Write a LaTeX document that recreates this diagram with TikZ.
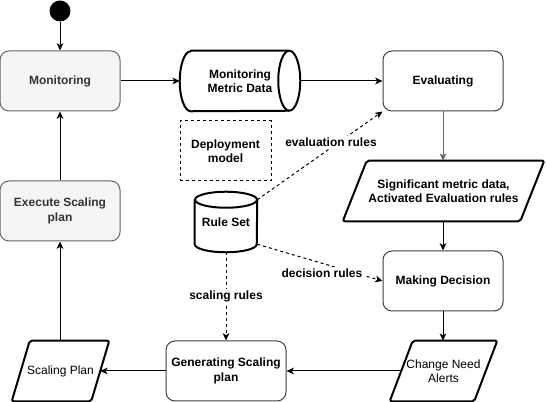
\documentclass[tikz,border=0pt]{standalone}
\usepackage{fontspec}
\setmainfont{Liberation Sans}
\usetikzlibrary{arrows.meta,calc,backgrounds}
\definecolor{gfill}{HTML}{F5F5F5}
\definecolor{gtext}{HTML}{333333}
\definecolor{gline}{HTML}{666666}
\begin{document}
\begin{tikzpicture}[x=0.75pt,y=-0.75pt,
  every node/.style={font=\fontsize{9}{10.8}\selectfont\bfseries, align=center, inner sep=0pt},
  reg/.style={font=\fontsize{9}{10.8}\selectfont},
  rbox/.style={draw=black!75, line width=0.75pt, rounded corners=6.75pt, minimum width=90pt, minimum height=45pt, fill=white},
  gbox/.style={rbox, draw=gline, fill=gfill, text=gtext},
  shp/.style={minimum width=#1, minimum height=45pt},
  thk/.style={line width=1.5pt, line join=round},
  arr/.style={-{Stealth[length=5.5pt,width=5pt,inset=1.5pt]}, line width=0.75pt},
  dsh/.style={arr, dash pattern=on 2.25pt off 2.25pt},
  lbl/.style={fill=white, inner sep=1pt},
]
\useasboundingbox (0,0) rectangle (547,402);

\node[circle, fill=black, minimum size=15.75pt] (start) at (60,11) {};
\node[gbox] (mon) at (60,81) {Monitoring};
\node[gbox] (exe) at (60,211) {Execute Scaling\\plan};
\node[rbox] (eva) at (443,81) {Evaluating};
\node[rbox] (dec) at (443,281) {Making Decision};
\node[rbox] (gen) at (226,371) {Generating Scaling\\plan};

% Monitoring Metric Data cylinder
\node[shp=90pt] (mmd) at (240,81) {Monitoring\\Metric Data};
\begin{scope}[on background layer]
\draw[thk] ($(mmd.north west)+(11,0)$) -- ($(mmd.north east)+(-11,0)$)
  arc[start angle=90,end angle=-90,x radius=8.25pt,y radius=22.5pt]
  -- ($(mmd.south west)+(11,0)$)
  arc[start angle=270,end angle=90,x radius=8.25pt,y radius=22.5pt] -- cycle;
\draw[thk] ($(mmd.north east)+(-11,0)$) arc[start angle=90,end angle=270,x radius=8.25pt,y radius=22.5pt];
\end{scope}

% Rule Set cylinder
\node[shp=46.5pt] (rs) at (226,222) {Rule Set};
\begin{scope}[on background layer]
\draw[thk] ($(rs.north west)+(0,8)$) -- ($(rs.south west)+(0,-8)$)
  arc[start angle=180,end angle=360,x radius=23.25pt,y radius=6pt]
  -- ($(rs.north east)+(0,8)$);
\draw[thk] ($(rs.north)+(0,8)$) ellipse[x radius=23.25pt,y radius=6pt];
\end{scope}

% Deployment model
\node[draw, dash pattern=on 2.25pt off 2.25pt, line width=0.75pt, minimum width=68.25pt, minimum height=45pt] (dep) at (225.5,151) {Deployment\\model};

% parallelograms
\node[shp=150.75pt] (sig) at (443.5,191) {Significant metric data,\\Activated Evaluation rules};
\node[shp=80.25pt, reg] (cna) at (443.5,371) {Change Need\\Alerts};
\node[shp=72.75pt, reg] (sp) at (60.5,371) {Scaling Plan};
\begin{scope}[on background layer]
\draw[thk, rounded corners=1.5pt] (sig.south west) -- ($(sig.north west)+(24,0)$) -- (sig.north east) -- ($(sig.south east)+(-24,0)$) -- cycle;
\draw[thk, rounded corners=1.5pt] (cna.south west) -- ($(cna.north west)+(23,0)$) -- (cna.north east) -- ($(cna.south east)+(-23,0)$) -- cycle;
\draw[thk, rounded corners=1.5pt] (sp.south west) -- ($(sp.north west)+(18,0)$) -- (sp.north east) -- ($(sp.south east)+(-18,0)$) -- cycle;
\end{scope}

% arrows
\draw[arr] (start) -- (mon);
\draw[arr] (mon) -- (mmd);
\draw[arr] (mmd) -- (eva);
\draw[arr, gline] (eva.south) -- (eva.south |- sig.north);
\draw[arr] (sig.south -| dec.north) -- (dec.north);
\draw[arr] (dec.south) -- (dec.south |- cna.north);
\draw[arr] ($(cna.west)+(11.5,0)$) -- (gen.east);
\draw[arr] (gen.west) -- ($(sp.east)+(-9,0)$);
\draw[arr] (sp.north -| exe.south) -- (exe.south);
\draw[arr] (exe) -- (mon);

% dashed rule connectors
\draw[dsh] ($(rs.north east)+(0,8)$) -- (eva.south west);
\draw[dsh] ($(rs.south east)+(0,-8)$) -- (dec.west);
\draw[dsh] (rs.south) -- (gen.north);
\node[lbl] (lev) at (331,142) {evaluation rules};
\node[lbl] (ldec) at (322,273) {decision rules};
\node[lbl] (lsc) at (226,296) {scaling rules};
\end{tikzpicture}
\end{document}
